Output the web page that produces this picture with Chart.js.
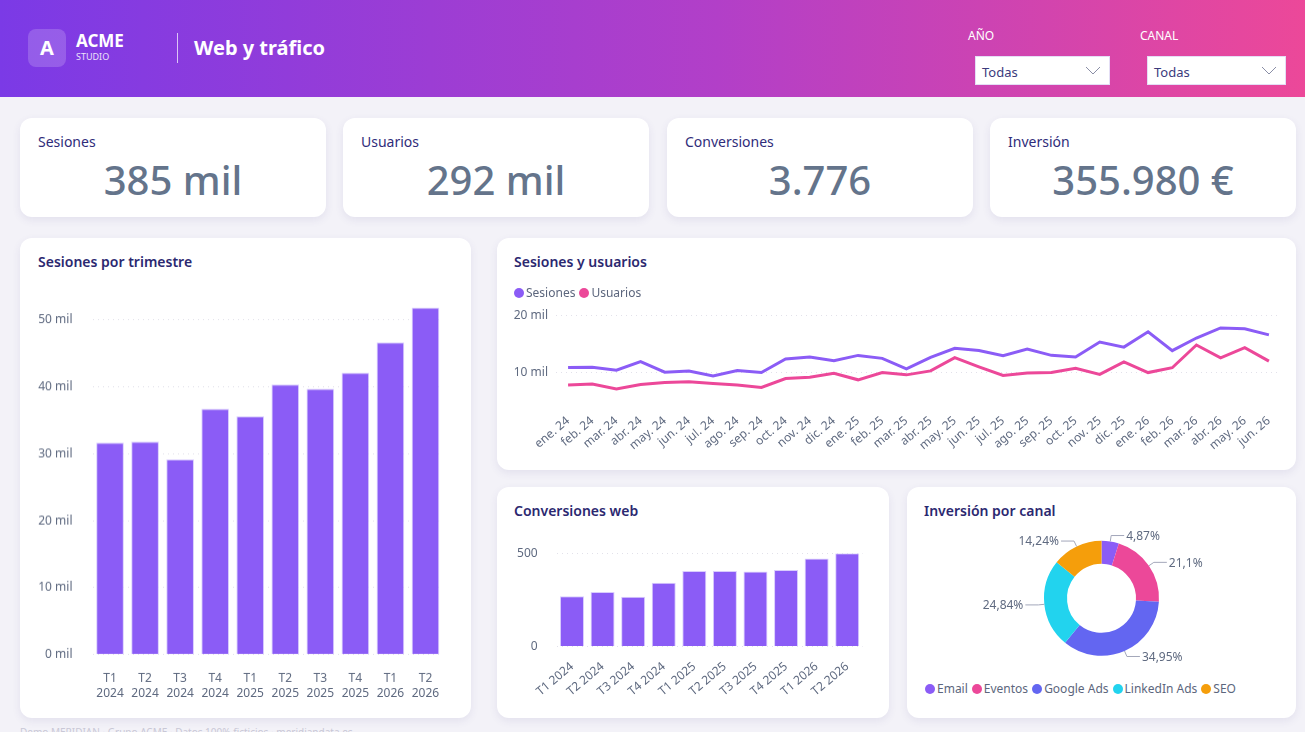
<!DOCTYPE html>
<html lang="es">
<head>
<meta charset="utf-8">
<title>Web y tráfico</title>
<script src="https://cdn.jsdelivr.net/npm/chart.js@4.4.1/dist/chart.umd.min.js"></script>
<style>
  * { box-sizing: border-box; margin: 0; padding: 0; }
  body {
    width: 1305px; height: 732px; overflow: hidden; position: relative;
    background: #f3f2f8; font-family: "Noto Sans", "Open Sans", sans-serif;
  }
  .header {
    position: absolute; left: 0; top: 0; width: 1305px; height: 97px;
    background: linear-gradient(90deg, #7b3ae6 0%, #b23fc8 55%, #ec4899 100%);
    color: #fff;
  }
  .logo {
    position: absolute; left: 28px; top: 29px; width: 38px; height: 38px;
    border-radius: 8px; background: rgba(255,255,255,0.18);
    font-weight: 700; font-size: 20px; line-height: 38px; text-align: center;
  }
  .brand { position: absolute; left: 76px; top: 30px; font-weight: 700; font-size: 17px; line-height: 22px; }
  .brand small { display: block; font-weight: 400; font-size: 9px; line-height: 10px; opacity: 0.85; }
  .divider { position: absolute; left: 177px; top: 33px; width: 1px; height: 30px; background: rgba(255,255,255,0.7); }
  .page-title { position: absolute; left: 194px; top: 34px; font-weight: 700; font-size: 20px; line-height: 28px; }
  .flabel { position: absolute; top: 28px; font-size: 12px; line-height: 16px; }
  .select {
    position: absolute; top: 56px; height: 29px; background: #fff;
    border: 1px solid #e4def5; color: #3b3a7c; font-size: 13px; line-height: 27px;
    padding-left: 6px; padding-top: 2px;
  }
  .select svg { position: absolute; right: 8px; top: 9px; }
  .card {
    position: absolute; background: #fff; border-radius: 12px;
    box-shadow: 0 3px 8px rgba(70, 60, 130, 0.09);
  }
  .kpi-title { position: absolute; left: 18px; top: 14px; font-size: 14px; color: #2f2c7a; }
  .kpi-value {
    position: absolute; left: 0; right: 0; top: 36px; text-align: center;
    font-size: 40px; line-height: 52px; color: #64748b; font-weight: 500;
  }
  .ctitle { position: absolute; left: 17px; top: 14px; font-size: 14px; font-weight: 600; color: #2b2870; }
  .chart-box { position: absolute; }
  .legend { position: absolute; display: flex; align-items: center; font-size: 12px; color: #5c667d; white-space: nowrap; }
  .legend span.dot { display: inline-block; width: 10px; height: 10px; border-radius: 50%; margin-right: 2px; }
  .legend span.item { display: flex; align-items: center; margin-right: 4px; }
  .footer { position: absolute; left: 20px; top: 725px; font-size: 10px; color: #c9c8d6; white-space: nowrap; }
</style>
</head>
<body>
<div class="header">
  <div class="logo">A</div>
  <div class="brand">ACME<small>STUDIO</small></div>
  <div class="divider"></div>
  <div class="page-title">Web y tráfico</div>
  <div class="flabel" style="left:968px">AÑO</div>
  <div class="select" style="left:975px;width:135px">Todas
    <svg width="16" height="9" viewBox="0 0 16 9"><polyline points="1,1 8,8 15,1" fill="none" stroke="#8a8ea6" stroke-width="1"/></svg></div>
  <div class="flabel" style="left:1140px">CANAL</div>
  <div class="select" style="left:1147px;width:139px">Todas
    <svg width="16" height="9" viewBox="0 0 16 9"><polyline points="1,1 8,8 15,1" fill="none" stroke="#8a8ea6" stroke-width="1"/></svg></div>
</div>

<div class="card" style="left:20px;top:118px;width:306px;height:99px">
  <div class="kpi-title">Sesiones</div><div class="kpi-value" id="kpi1"></div></div>
<div class="card" style="left:343px;top:118px;width:306px;height:99px">
  <div class="kpi-title">Usuarios</div><div class="kpi-value" id="kpi2"></div></div>
<div class="card" style="left:667px;top:118px;width:306px;height:99px">
  <div class="kpi-title">Conversiones</div><div class="kpi-value" id="kpi3"></div></div>
<div class="card" style="left:990px;top:118px;width:306px;height:99px">
  <div class="kpi-title">Inversión</div><div class="kpi-value" id="kpi4"></div></div>

<div class="card" style="left:20px;top:238px;width:451px;height:480px">
  <div class="ctitle" style="left:18px">Sesiones por trimestre</div></div>
<div class="card" style="left:497px;top:238px;width:799px;height:232px">
  <div class="ctitle">Sesiones y usuarios</div></div>
<div class="card" style="left:497px;top:487px;width:392px;height:231px">
  <div class="ctitle">Conversiones web</div></div>
<div class="card" style="left:907px;top:487px;width:389px;height:231px">
  <div class="ctitle">Inversión por canal</div></div>

<div class="chart-box" style="left:20px;top:279px;width:440px;height:431.5px"><canvas id="cQuarter"></canvas></div>
<div class="chart-box" style="left:497px;top:300px;width:799px;height:165px"><canvas id="cLine"></canvas></div>
<div class="chart-box" style="left:497px;top:526.6px;width:392px;height:188.4px"><canvas id="cConv"></canvas></div>
<div class="chart-box" style="left:907px;top:525px;width:389px;height:150px"><canvas id="cDonut"></canvas></div>

<div class="legend" id="legLine" style="left:514px;top:284px"></div>
<div class="legend" id="legDonut" style="left:925px;top:680px"></div>

<div class="footer">Demo MERIDIAN · Grupo ACME · Datos 100% ficticios · meridiandata.es</div>

<script>
// --- data ---
const quarters = [["T1","2024"],["T2","2024"],["T3","2024"],["T4","2024"],["T1","2025"],
                  ["T2","2025"],["T3","2025"],["T4","2025"],["T1","2026"],["T2","2026"]];
const quarterSessions = [31650, 31800, 29160, 36690, 35590, 40330, 39680, 42070, 46610, 51800];
const quarterConversions = [270, 293, 268, 343, 406, 406, 404, 411, 473, 502];

const months = ["ene. 24","feb. 24","mar. 24","abr. 24","may. 24","jun. 24","jul. 24","ago. 24",
  "sep. 24","oct. 24","nov. 24","dic. 24","ene. 25","feb. 25","mar. 25","abr. 25","may. 25",
  "jun. 25","jul. 25","ago. 25","sep. 25","oct. 25","nov. 25","dic. 25","ene. 26","feb. 26",
  "mar. 26","abr. 26","may. 26","jun. 26"];
const sessions = [10810, 10870, 10350, 11850, 10000, 10230, 9360, 10290, 9940, 12310, 12660, 12020,
  12950, 12430, 10600, 12600, 14200, 13820, 12880, 14080, 12960, 12680, 15300, 14400,
  17080, 13780, 16000, 17770, 17630, 16550];
const users = [7750, 7920, 7050, 7860, 8210, 8320, 8030, 7750, 7340, 8900, 9130, 9830,
  8670, 9940, 9540, 10230, 12550, 10950, 9450, 9880, 9940, 10700, 9620, 11830,
  9940, 10790, 14780, 12520, 14320, 11950];

const channels = ["Email", "Eventos", "Google Ads", "LinkedIn Ads", "SEO"];
const investment = [17336, 75112, 124415, 88426, 50691];

const kpiSessions = "385 mil";
const kpiUsers = "292 mil";
const kpiConversions = "3.776";
const kpiInvestment = "355.980 €";

// --- styles ---
const violet = "#8b5cf6";
const pink = "#ec4899";
const channelColors = ["#8b5cf6", "#ec4899", "#6366f1", "#22d3ee", "#f59e0b"];
const tickColor = "#5f6a80";
const gridColor = "#e2e1ea";

Chart.defaults.font.family = "'Noto Sans', 'Open Sans', sans-serif";
Chart.defaults.font.size = 12;
Chart.defaults.color = tickColor;
Chart.defaults.animation = false;
Chart.defaults.plugins.legend.display = false;
Chart.defaults.plugins.tooltip.enabled = false;

document.getElementById("kpi1").textContent = kpiSessions;
document.getElementById("kpi2").textContent = kpiUsers;
document.getElementById("kpi3").textContent = kpiConversions;
document.getElementById("kpi4").textContent = kpiInvestment;

const milFmt = (v) => (v / 1000).toLocaleString("es-ES") + " mil";
const fixedWidth = (w) => (scale) => { scale.width = w; };
const fixedHeight = (h) => (scale) => { scale.height = h; };

// legends built from the series
function buildLegend(id, names, colors) {
  const el = document.getElementById(id);
  names.forEach((n, i) => {
    const item = document.createElement("span");
    item.className = "item";
    item.innerHTML = `<span class="dot" style="background:${colors[i]}"></span>${n}`;
    el.appendChild(item);
  });
}
buildLegend("legLine", ["Sesiones", "Usuarios"], [violet, pink]);
buildLegend("legDonut", channels, channelColors);

// Sesiones por trimestre
new Chart(document.getElementById("cQuarter"), {
  type: "bar",
  data: {
    labels: quarters,
    datasets: [{
      data: quarterSessions,
      backgroundColor: violet,
      borderColor: "#d9cdfd",
      borderWidth: 1,
      categoryPercentage: 0.79,
      barPercentage: 1,
    }],
  },
  options: {
    responsive: true,
    maintainAspectRatio: false,
    layout: { padding: { top: 10.5, right: 17 } },
    scales: {
      x: {
        grid: { display: false },
        border: { display: false },
        ticks: { padding: 9, maxRotation: 0, font: { size: 12 } },
        afterFit: fixedHeight(56.7),
      },
      y: {
        min: 0, max: 52000,
        grid: { color: gridColor, drawTicks: false },
        border: { display: false, dash: [1, 4] },
        ticks: { padding: 20, callback: milFmt },
        afterBuildTicks: (s) => { s.ticks = [0, 10000, 20000, 30000, 40000, 50000].map((v) => ({ value: v })); },
        afterFit: fixedWidth(72.5),
      },
    },
  },
});

// Sesiones y usuarios
new Chart(document.getElementById("cLine"), {
  type: "line",
  data: {
    labels: months,
    datasets: [
      { label: "Sesiones", data: sessions, borderColor: violet, borderWidth: 3, pointRadius: 0, tension: 0 },
      { label: "Usuarios", data: users, borderColor: pink, borderWidth: 3, pointRadius: 0, tension: 0 },
    ],
  },
  options: {
    responsive: true,
    maintainAspectRatio: false,
    layout: { padding: { top: 14.5, right: 15 } },
    scales: {
      x: {
        offset: true,
        grid: { display: false },
        border: { display: false },
        ticks: { padding: 5, autoSkip: false, minRotation: 40, maxRotation: 40 },
        afterFit: fixedHeight(64.25),
      },
      y: {
        min: 5000, max: 20000,
        grid: { color: gridColor, drawTicks: false },
        border: { display: false, dash: [1, 4] },
        ticks: { padding: 8, callback: milFmt },
        afterBuildTicks: (s) => { s.ticks = [{ value: 10000 }, { value: 20000 }]; },
        afterFit: fixedWidth(59),
      },
    },
  },
});

// Conversiones web
new Chart(document.getElementById("cConv"), {
  type: "bar",
  data: {
    labels: quarters.map((q) => q.join(" ")),
    datasets: [{
      data: quarterConversions,
      backgroundColor: violet,
      borderColor: "#d9cdfd",
      borderWidth: 1,
      categoryPercentage: 0.785,
      barPercentage: 1,
    }],
  },
  options: {
    responsive: true,
    maintainAspectRatio: false,
    layout: { padding: { top: 12.6, right: 26.5 } },
    scales: {
      x: {
        grid: { display: false },
        border: { display: false },
        ticks: { padding: 5, autoSkip: false, minRotation: 40, maxRotation: 40 },
        afterFit: fixedHeight(69),
      },
      y: {
        min: 0, max: 502,
        grid: { color: gridColor, drawTicks: false },
        border: { display: false, dash: [1, 4] },
        ticks: { padding: 19, callback: (v) => v.toLocaleString("es-ES") },
        afterBuildTicks: (s) => { s.ticks = [{ value: 0 }, { value: 500 }]; },
        afterFit: fixedWidth(59.7),
      },
    },
  },
});

// Inversión por canal: percentage labels with leader lines
const leaderLabels = {
  id: "leaderLabels",
  afterDatasetsDraw(chart) {
    const ctx = chart.ctx;
    const meta = chart.getDatasetMeta(0);
    const data = chart.data.datasets[0].data;
    const total = data.reduce((a, b) => a + b, 0);
    ctx.save();
    ctx.strokeStyle = "#a3a7ba";
    ctx.lineWidth = 1;
    ctx.fillStyle = tickColor;
    ctx.font = "12px 'Noto Sans', 'Open Sans', sans-serif";
    ctx.textBaseline = "middle";
    meta.data.forEach((arc, i) => {
      const { x, y, startAngle, endAngle, outerRadius } = arc.getProps(["x", "y", "startAngle", "endAngle", "outerRadius"]);
      const a = (startAngle + endAngle) / 2;
      const cos = Math.cos(a), sin = Math.sin(a);
      const x0 = x + cos * outerRadius, y0 = y + sin * outerRadius;
      const x1 = x + cos * (outerRadius + 6), y1 = y + sin * (outerRadius + 6);
      const dir = cos >= 0 ? 1 : -1;
      const x2 = x1 + dir * 13;
      ctx.beginPath();
      ctx.moveTo(x0, y0);
      ctx.lineTo(x1, y1);
      ctx.lineTo(x2, y1);
      ctx.stroke();
      const pct = (data[i] / total * 100).toLocaleString("es-ES", { maximumFractionDigits: 2 }) + "%";
      ctx.textAlign = dir > 0 ? "left" : "right";
      ctx.fillText(pct, x2 + dir * 2, y1 + 1);
    });
    ctx.restore();
  },
};

new Chart(document.getElementById("cDonut"), {
  type: "doughnut",
  data: {
    labels: channels,
    datasets: [{ data: investment, backgroundColor: channelColors, borderWidth: 0 }],
  },
  options: {
    responsive: true,
    maintainAspectRatio: false,
    cutout: "60%",
    layout: { padding: { top: 15.8, bottom: 19.2 } },
  },
  plugins: [leaderLabels],
});
</script>
</body>
</html>
